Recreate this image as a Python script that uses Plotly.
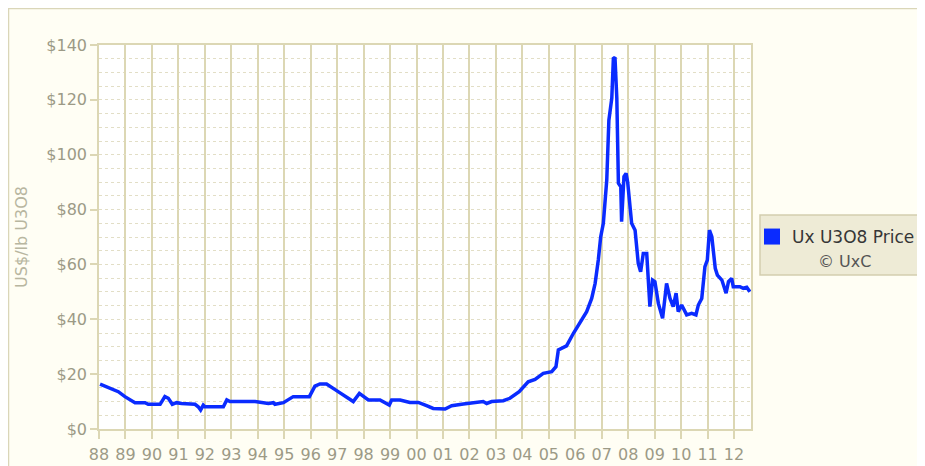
import plotly.graph_objects as go

# Ux U3O8 spot price
years = [1988.04, 1988.42, 1988.73, 1988.98, 1989.36, 1989.74, 1989.86, 1990.31, 1990.49, 1990.62,
         1990.77, 1990.93, 1991.12, 1991.63, 1991.75, 1991.84, 1991.94, 1992.00, 1992.70, 1992.83,
         1992.95, 1993.90, 1994.40, 1994.59, 1994.65, 1994.97, 1995.34, 1995.95, 1996.05, 1996.16,
         1996.35, 1996.60, 1996.98, 1997.30, 1997.61, 1997.84, 1997.99, 1998.18, 1998.62, 1998.81,
         1998.97, 1999.06, 1999.38, 1999.75, 2000.07, 2000.38, 2000.63, 2001.08, 2001.33, 2001.77,
         2002.15, 2002.52, 2002.65, 2002.84, 2003.28, 2003.53, 2003.88, 2004.22, 2004.48, 2004.79,
         2005.11, 2005.27, 2005.36, 2005.67, 2005.93, 2006.18, 2006.43, 2006.62, 2006.75, 2006.87,
         2006.96, 2007.06, 2007.19, 2007.27, 2007.38, 2007.44, 2007.50, 2007.57, 2007.63, 2007.72,
         2007.75, 2007.84, 2007.92, 2007.98, 2008.04, 2008.13, 2008.26, 2008.38, 2008.47, 2008.57,
         2008.70, 2008.76, 2008.82, 2008.92, 2009.01, 2009.14, 2009.30, 2009.45, 2009.58, 2009.70,
         2009.81, 2009.89, 2010.02, 2010.21, 2010.40, 2010.56, 2010.65, 2010.78, 2010.90, 2010.99,
         2011.07, 2011.16, 2011.29, 2011.37, 2011.54, 2011.70, 2011.79, 2011.91, 2011.97, 2012.22,
         2012.35, 2012.48, 2012.60]
prices = [16.4, 14.8, 13.6, 11.8, 9.6, 9.6, 9.0, 9.0, 11.8, 11.2,
          9.0, 9.6, 9.3, 9.0, 8.1, 6.9, 8.7, 8.1, 8.1, 10.6,
          10.0, 10.0, 9.3, 9.6, 9.0, 9.6, 11.8, 11.8, 13.5, 15.6,
          16.4, 16.4, 14.0, 11.8, 10.0, 13.0, 11.8, 10.6, 10.6, 9.6,
          8.7, 10.6, 10.6, 9.7, 9.7, 8.5, 7.5, 7.3, 8.5, 9.1,
          9.7, 10.0, 9.3, 10.0, 10.3, 11.2, 13.6, 17.2, 18.1, 20.3,
          20.9, 22.7, 28.8, 30.3, 34.9, 39.1, 42.8, 47.6, 53.1, 61.6,
          70.0, 75.0, 90.8, 112.6, 120.6, 135.1, 135.5, 120.6, 89.6, 88.3,
          75.6, 92.0, 93.2, 90.0, 82.5, 75.0, 72.5, 60.4, 57.3, 64.0,
          64.0, 54.3, 44.6, 54.3, 53.7, 45.8, 40.4, 53.1, 47.6, 44.6,
          49.5, 42.8, 45.2, 41.6, 42.2, 41.6, 45.2, 47.6, 59.2, 61.6,
          72.5, 70.1, 58.6, 56.1, 54.3, 49.5, 53.7, 54.9, 51.9, 51.9,
          51.3, 51.7, 50.0]

tick_years = list(range(1988, 2013))
tick_labels = ["%02d" % (y % 100) for y in tick_years]
y_ticks = [0, 20, 40, 60, 80, 100, 120, 140]
y_labels = ["$%d" % v for v in y_ticks]

series_name = "Ux U3O8 Price"
credit = "© UxC"
y_title = "US$/lb U3O8"

FONT = "DejaVu Sans, Verdana, sans-serif"
LINE_BLUE = "#0A2BFF"
GRID = "#DCD7B4"
LABEL = "#9C9A86"

fig = go.Figure()
fig.add_trace(go.Scatter(x=years, y=prices, mode="lines",
                         line=dict(color=LINE_BLUE, width=3.5),
                         showlegend=False, name=series_name))
# legend entry with square swatch
fig.add_trace(go.Scatter(x=[None], y=[None], mode="markers",
                         marker=dict(symbol="square", size=16, color=LINE_BLUE),
                         name=series_name, showlegend=True))

# page has an 8px body margin: figure sits at (8, 8)
OFF = 8
W, H = 925 - OFF, 466 - OFF
L, R, T, B = 99 - OFF, 751 - OFF, 45 - OFF, 429 - OFF
pw, ph = R - L, B - T

def px(x):
    return (x - OFF - L) / pw

def py(y):
    return (B - (y - OFF)) / ph

shapes = [
    # cream outer panel with border
    dict(type="rect", xref="paper", yref="paper", layer="below",
         x0=px(8.5), x1=px(960), y0=py(500), y1=py(8.5),
         fillcolor="#FFFEF4", line=dict(color="#DAD6B8", width=1.5)),
    # white plot area
    dict(type="rect", xref="paper", yref="paper", layer="below",
         x0=0, x1=1, y0=0, y1=1, fillcolor="white", line=dict(width=0)),
    # legend box
    dict(type="rect", xref="paper", yref="paper", layer="above",
         x0=px(760), x1=px(922), y0=py(275), y1=py(215),
         fillcolor="#EEEBD6", line=dict(color="#D3CEAE", width=1.5)),
]

fig.update_layout(
    width=W, height=H,
    margin=dict(l=L, r=W - R, t=T, b=H - B, autoexpand=False),
    paper_bgcolor="white", plot_bgcolor="white",
    font=dict(family=FONT, size=16, color=LABEL),
    shapes=shapes,
    showlegend=True,
    legend=dict(x=px(752), y=py(219), xanchor="left", yanchor="top",
                bgcolor="rgba(0,0,0,0)", borderwidth=0,
                font=dict(family=FONT, size=17, color="#363636")),
    annotations=[dict(text=credit, xref="paper", yref="paper",
                      x=px(844), y=py(261), xanchor="center", yanchor="middle",
                      showarrow=False, font=dict(family=FONT, size=16, color="#555555"))],
    xaxis=dict(range=[1988, 1988 + pw / 26.46], tickmode="array",
               tickvals=tick_years, ticktext=tick_labels,
               showgrid=True, gridcolor=GRID, gridwidth=1.5,
               showline=True, linecolor=GRID, linewidth=1.5, mirror=True,
               ticks="outside", ticklen=8, tickcolor=GRID, tickwidth=1.5,
               ticklabelstandoff=2, zeroline=False,
               tickfont=dict(size=16, color=LABEL)),
    yaxis=dict(range=[0, 140], tickmode="array", tickvals=y_ticks, ticktext=y_labels,
               showgrid=True, gridcolor="#E2DEC6", gridwidth=1, griddash="dot",
               minor=dict(dtick=5, tick0=0, showgrid=True, gridcolor="#E2DEC6",
                          gridwidth=1, griddash="dot", ticks=""),
               showline=True, linecolor=GRID, linewidth=1.5, mirror=True,
               ticks="outside", ticklen=7, tickcolor=GRID, tickwidth=1.5,
               zeroline=False, tickfont=dict(size=16, color=LABEL),
               title=dict(text=y_title, standoff=15,
                          font=dict(size=16, color="#B8B6A0"))),
)

fig.write_html("out.html")
